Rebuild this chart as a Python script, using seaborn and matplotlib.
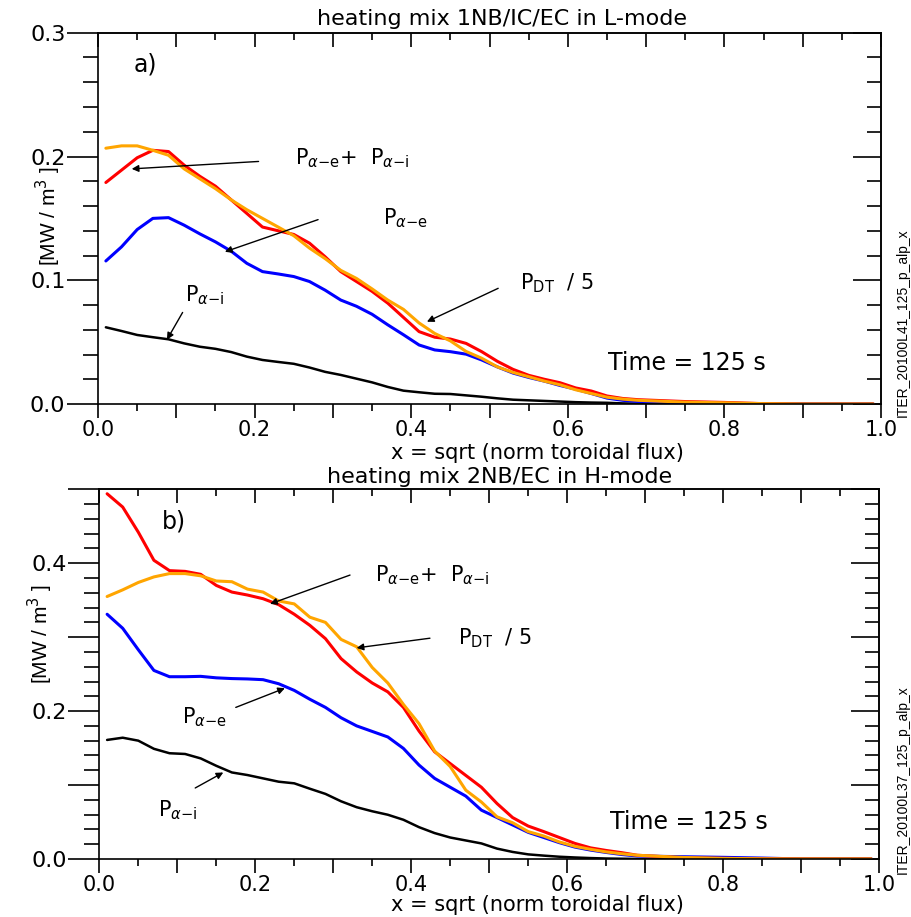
import numpy as np
import seaborn as sns
import matplotlib
matplotlib.use('Agg')
import matplotlib.pyplot as plt
from matplotlib.ticker import MultipleLocator, FuncFormatter

# radial grid: x = sqrt(norm toroidal flux)
x_grid = [0.01, 0.03, 0.05, 0.07, 0.09, 0.11, 0.13, 0.15, 0.17, 0.19,
          0.21, 0.23, 0.25, 0.27, 0.29, 0.31, 0.33, 0.35, 0.37, 0.39,
          0.41, 0.43, 0.45, 0.47, 0.49, 0.51, 0.53, 0.55, 0.57, 0.59,
          0.61, 0.63, 0.65, 0.67, 0.69, 0.75, 0.80, 0.85, 0.90, 0.95, 0.99]

# panel a) heating mix 1NB/IC/EC in L-mode
a_sum = [0.179, 0.189, 0.199, 0.205, 0.204, 0.193, 0.184, 0.176, 0.165, 0.154,
         0.143, 0.140, 0.137, 0.130, 0.119, 0.107, 0.099, 0.091, 0.0815, 0.070,
         0.0585, 0.054, 0.0525, 0.049, 0.0423, 0.0345, 0.028, 0.0232, 0.020, 0.0172,
         0.013, 0.0105, 0.0065, 0.0045, 0.0035, 0.002, 0.0013, 0.0003, 0, 0, 0]
a_dt = [0.2067, 0.2086, 0.2086, 0.205, 0.201, 0.190, 0.182, 0.174, 0.165, 0.157,
        0.150, 0.143, 0.136, 0.126, 0.1175, 0.108, 0.1015, 0.093, 0.084, 0.0765,
        0.0655, 0.057, 0.051, 0.0425, 0.037, 0.030, 0.0255, 0.022, 0.0185, 0.0155,
        0.0115, 0.0085, 0.0055, 0.004, 0.003, 0.0015, 0.001, 0.0003, 0, 0, 0]
a_e = [0.1156, 0.127, 0.141, 0.150, 0.1506, 0.1445, 0.1375, 0.131, 0.1235, 0.1137,
       0.107, 0.1051, 0.103, 0.099, 0.092, 0.084, 0.079, 0.0725, 0.064, 0.056,
       0.0477, 0.0437, 0.0423, 0.0403, 0.0356, 0.030, 0.025, 0.0215, 0.0185, 0.015,
       0.012, 0.0085, 0.0048, 0.003, 0.002, 0.0012, 0.0008, 0, 0, 0, 0]
a_i = [0.062, 0.059, 0.0558, 0.054, 0.0523, 0.049, 0.0463, 0.0446, 0.042, 0.0383,
       0.0356, 0.034, 0.0325, 0.0295, 0.026, 0.0235, 0.0205, 0.0175, 0.0138, 0.0108,
       0.0095, 0.0083, 0.0081, 0.007, 0.0059, 0.0046, 0.0035, 0.003, 0.0025, 0.002,
       0.0015, 0.0012, 0.001, 0.0005, 0.0003, 0, 0, 0, 0, 0, 0]

# panel b) heating mix 2NB/EC in H-mode
b_sum = [0.494, 0.476, 0.442, 0.404, 0.390, 0.389, 0.385, 0.370, 0.361, 0.357,
         0.352, 0.344, 0.331, 0.316, 0.298, 0.271, 0.253, 0.238, 0.226, 0.205,
         0.173, 0.145, 0.129, 0.113, 0.097, 0.075, 0.056, 0.0445, 0.037, 0.029,
         0.021, 0.015, 0.0115, 0.0085, 0.005, 0.0015, 0.0008, 0.0003, 0, 0, 0]
b_dt = [0.355, 0.364, 0.374, 0.3815, 0.386, 0.386, 0.383, 0.376, 0.375, 0.365,
        0.361, 0.349, 0.345, 0.327, 0.320, 0.297, 0.287, 0.259, 0.238, 0.209,
        0.183, 0.146, 0.125, 0.093, 0.077, 0.057, 0.049, 0.037, 0.031, 0.023,
        0.017, 0.013, 0.0095, 0.007, 0.005, 0.002, 0.0008, 0.0002, 0, 0, 0]
b_e = [0.331, 0.312, 0.283, 0.255, 0.2465, 0.2465, 0.247, 0.245, 0.244, 0.2435,
       0.2425, 0.237, 0.228, 0.216, 0.205, 0.191, 0.180, 0.1725, 0.165, 0.1495,
       0.127, 0.109, 0.097, 0.085, 0.066, 0.056, 0.046, 0.036, 0.029, 0.022,
       0.016, 0.012, 0.0088, 0.006, 0.004, 0.003, 0.0022, 0.0012, 0, 0, 0]
b_i = [0.161, 0.164, 0.160, 0.149, 0.143, 0.142, 0.136, 0.126, 0.117, 0.1135,
       0.109, 0.1045, 0.1023, 0.095, 0.088, 0.078, 0.070, 0.0645, 0.0598, 0.053,
       0.043, 0.035, 0.029, 0.025, 0.021, 0.014, 0.0095, 0.0062, 0.0045, 0.003,
       0.002, 0.0012, 0.0006, 0.0003, 0, 0, 0, 0, 0, 0, 0]

sns.set_theme(style='white')
plt.rcParams['font.family'] = ['DejaVu Sans']
plt.rcParams['mathtext.fontset'] = 'dejavusans'
plt.rcParams['text.color'] = 'black'
plt.rcParams['xtick.color'] = 'black'
plt.rcParams['ytick.color'] = 'black'
narrow = ['Liberation Sans Narrow', 'Liberation Sans', 'DejaVu Sans']

W, H = 912, 917
fig = plt.figure(figsize=(9.12, 9.17), dpi=100)
ax1 = fig.add_axes([0.1075, 0.5594, 0.8586, 0.4049])
ax2 = fig.add_axes([0.1089, 0.0633, 0.855, 0.4031])


def even_fmt(v, pos):
    return f'{v:.1f}' if round(v * 10) % 2 == 0 else ''


def style_axis(ax, ymax, yfmt):
    ax.set_xlim(0, 1)
    ax.set_ylim(0, ymax)
    for s in ax.spines.values():
        s.set_color('black')
        s.set_linewidth(1.2)
    ax.xaxis.set_major_locator(MultipleLocator(0.1))
    ax.xaxis.set_minor_locator(MultipleLocator(0.05))
    ax.xaxis.set_major_formatter(FuncFormatter(even_fmt))
    ax.yaxis.set_major_locator(MultipleLocator(0.1))
    ax.yaxis.set_minor_locator(MultipleLocator(0.02))
    ax.yaxis.set_major_formatter(FuncFormatter(yfmt))
    ax.tick_params(axis='x', which='major', direction='out', length=10, width=1.2,
                   labelsize=15, pad=1.5, bottom=True, top=False)
    ax.tick_params(axis='x', which='minor', direction='out', length=5, width=1.2,
                   bottom=True, top=False)
    ax.tick_params(axis='y', which='major', direction='out', length=22, width=1.2,
                   labelsize=16, pad=1.5, left=True, right=False)
    ax.tick_params(axis='y', which='minor', direction='out', length=11, width=1.2,
                   left=True, right=False)
    top = ax.secondary_xaxis('top')
    top.xaxis.set_major_locator(MultipleLocator(0.1))
    top.xaxis.set_minor_locator(MultipleLocator(0.05))
    top.tick_params(which='major', direction='in', length=10, width=1.2, labeltop=False)
    top.tick_params(which='minor', direction='in', length=5, width=1.2)
    top.spines['top'].set_linewidth(1.2)
    right = ax.secondary_yaxis('right')
    right.yaxis.set_major_locator(MultipleLocator(0.1))
    right.yaxis.set_minor_locator(MultipleLocator(0.02))
    right.tick_params(which='major', direction='in', length=20, width=1.2, labelright=False)
    right.tick_params(which='minor', direction='in', length=10, width=1.2)
    right.spines['right'].set_linewidth(1.2)
    ax.set_xlabel('')
    ax.set_ylabel('')


def draw_curves(ax, p_i, p_e, p_sum, p_dt):
    sns.lineplot(x=x_grid, y=p_i, ax=ax, color='black', lw=1.8, estimator=None)
    sns.lineplot(x=x_grid, y=p_e, ax=ax, color='#0000ff', lw=2.2, estimator=None)
    sns.lineplot(x=x_grid, y=p_sum, ax=ax, color='#ff0000', lw=2.2, estimator=None)
    sns.lineplot(x=x_grid, y=p_dt, ax=ax, color='#ffa500', lw=2.2, estimator=None)


arrow = dict(arrowstyle='-|>', color='black', lw=1.0, mutation_scale=10,
             shrinkA=0, shrinkB=0)
lab_kw = dict(fontsize=15, ha='left', va='center', color='black')
time_kw = dict(fontsize=17, ha='left', va='center', color='black')

# ---- panel a
draw_curves(ax1, a_i, a_e, a_sum, a_dt)
style_axis(ax1, 0.3, lambda v, p: f'{v:.1f}')
ax1.text(0.045, 0.274, 'a)', **time_kw)
ax1.text(0.252, 0.199, r'P$_{\alpha\mathrm{-e}}$+  P$_{\alpha\mathrm{-i}}$', **lab_kw)
ax1.annotate('', xy=(0.043, 0.190), xytext=(0.205, 0.196), arrowprops=arrow)
ax1.text(0.364, 0.150, r'P$_{\alpha\mathrm{-e}}$', **lab_kw)
ax1.annotate('', xy=(0.162, 0.123), xytext=(0.281, 0.149), arrowprops=arrow)
ax1.text(0.111, 0.088, r'P$_{\alpha\mathrm{-i}}$', **lab_kw)
ax1.annotate('', xy=(0.088, 0.052), xytext=(0.108, 0.074), arrowprops=arrow)
ax1.text(0.539, 0.098, r'P$_{\mathrm{DT}}$  / 5', **lab_kw)
ax1.annotate('', xy=(0.42, 0.0665), xytext=(0.511, 0.0935), arrowprops=arrow)
ax1.text(0.651, 0.033, 'Time = 125 s', **time_kw)

# ---- panel b
draw_curves(ax2, b_i, b_e, b_sum, b_dt)
style_axis(ax2, 0.5, even_fmt)
ax2.text(0.080, 0.457, 'b)', **time_kw)
ax2.text(0.354, 0.384, r'P$_{\alpha\mathrm{-e}}$+  P$_{\alpha\mathrm{-i}}$', **lab_kw)
ax2.annotate('', xy=(0.219, 0.345), xytext=(0.3215, 0.384), arrowprops=arrow)
ax2.text(0.46, 0.298, r'P$_{\mathrm{DT}}$  / 5', **lab_kw)
ax2.annotate('', xy=(0.330, 0.2855), xytext=(0.424, 0.2986), arrowprops=arrow)
ax2.text(0.106, 0.192, r'P$_{\alpha\mathrm{-e}}$', **lab_kw)
ax2.annotate('', xy=(0.238, 0.231), xytext=(0.175, 0.205), arrowprops=arrow)
ax2.text(0.075, 0.066, r'P$_{\alpha\mathrm{-i}}$', **lab_kw)
ax2.annotate('', xy=(0.159, 0.117), xytext=(0.123, 0.096), arrowprops=arrow)
ax2.text(0.655, 0.050, 'Time = 125 s', **time_kw)

# titles, axis labels, run ids (positions by baseline, in pixels of the reference)
fig.text(502 / W, 1 - 25 / H, 'heating mix 1NB/IC/EC in L-mode', fontsize=16,
         ha='center', va='baseline')
fig.text(500 / W, 1 - 483 / H, 'heating mix 2NB/EC in H-mode', fontsize=16,
         ha='center', va='baseline')
fig.text(537 / W, 1 - 459 / H, 'x = sqrt (norm toroidal flux)', fontsize=15,
         ha='center', va='baseline')
fig.text(537 / W, 1 - 911 / H, 'x = sqrt (norm toroidal flux)', fontsize=15,
         ha='center', va='baseline')
fig.text(48 / W, 1 - 216 / H, r'[MW / m$^3$ ]', fontsize=15, rotation=90,
         ha='center', va='center', family=narrow)
fig.text(40 / W, 1 - 634 / H, r'[MW / m$^3$ ]', fontsize=15, rotation=90,
         ha='center', va='center', family=narrow)
fig.text(903 / W, 1 - 323 / H, 'ITER_20100L41_125_p_alp_x', fontsize=10,
         rotation=90, ha='center', va='center', family=narrow)
fig.text(903 / W, 1 - 780 / H, 'ITER_20100L37_125_p_alp_x', fontsize=10,
         rotation=90, ha='center', va='center', family=narrow)

plt.savefig('out.png', dpi=100)
